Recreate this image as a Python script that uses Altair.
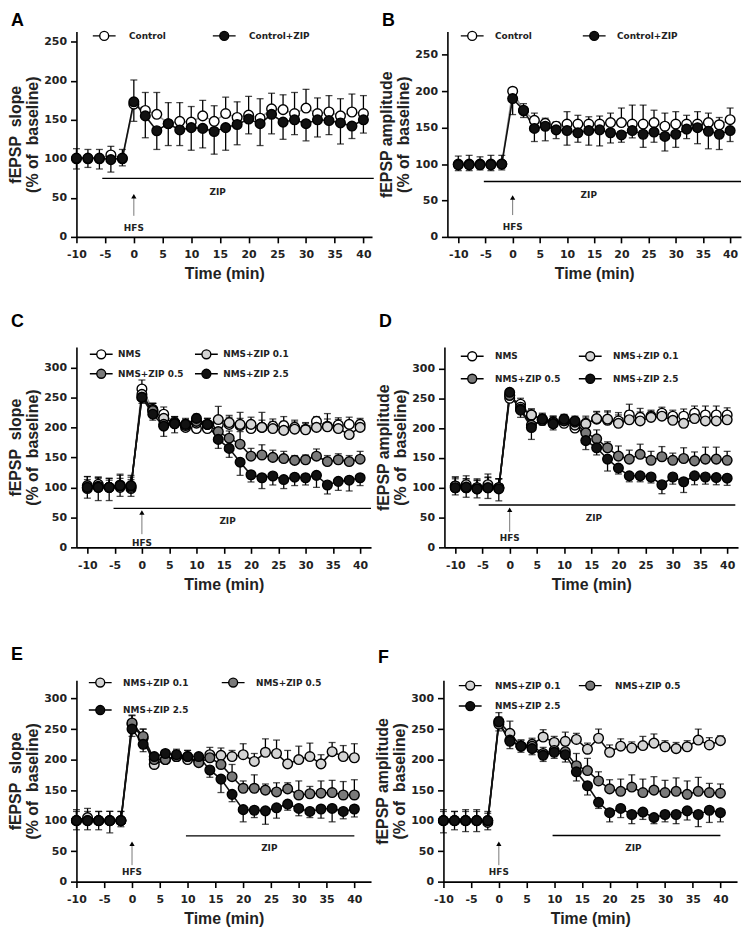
import altair as alt
import pandas as pd

TICKF = "DejaVu Sans"
TITLEF = "Liberation Sans"

time = [-10, -8, -6, -4, -2, 0, 2, 4, 6, 8, 10, 12, 14, 16, 18, 20, 22, 24, 26, 28, 30, 32, 34, 36, 38, 40]
x_ticks = [-10, -5, 0, 5, 10, 15, 20, 25, 30, 35, 40]
y_ticks_ab = [0, 50, 100, 150, 200, 250]
y_ticks_cf = [0, 50, 100, 150, 200, 250, 300]

# Panel A - fEPSP slope
a_ctrl = [100, 100, 100, 105, 100, 170, 162, 157, 145, 148, 147, 155, 148, 158, 153, 156, 152, 164, 163, 158, 165, 158, 160, 155, 160, 158]
a_ctrl_err = [13, 12, 12, 11, 12, 31, 23, 28, 27, 24, 20, 20, 20, 21, 20, 24, 25, 20, 19, 27, 24, 20, 21, 22, 23, 23]
a_zip = [101, 101, 101, 99, 101, 173, 155, 136, 145, 137, 140, 139, 135, 140, 144, 151, 145, 157, 147, 150, 145, 150, 149, 146, 142, 150]
a_zip_err = [14, 12, 14, 16, 10, 25, 28, 24, 28, 20, 29, 25, 29, 29, 26, 19, 28, 25, 22, 19, 22, 22, 18, 27, 16, 17]

# Panel B - fEPSP amplitude
b_ctrl = [100, 100, 100, 100, 100, 200, 173, 160, 156, 152, 155, 155, 155, 155, 157, 157, 155, 155, 157, 152, 155, 155, 155, 157, 154, 161]
b_ctrl_err = [11, 12, 10, 12, 12, 5, 10, 10, 7, 6, 17, 12, 10, 11, 13, 20, 26, 26, 17, 18, 17, 12, 17, 13, 10, 16]
b_zip = [99, 99, 99, 99, 100, 190, 174, 149, 152, 147, 146, 143, 146, 147, 143, 140, 146, 141, 144, 138, 141, 148, 150, 145, 141, 146]
b_zip_err = [8, 8, 7, 8, 8, 22, 10, 18, 20, 12, 20, 13, 20, 22, 14, 10, 10, 18, 14, 20, 18, 13, 22, 24, 21, 15]

# Panel C - fEPSP slope
c_nms = [98, 105, 100, 100, 98, 264, 230, 222, 208, 200, 198, 198, 205, 205, 203, 198, 200, 202, 203, 200, 197, 210, 202, 204, 205, 205]
c_nms_err = [15, 12, 12, 15, 15, 15, 10, 12, 10, 8, 10, 10, 12, 12, 12, 10, 12, 12, 15, 12, 10, 8, 12, 12, 12, 10]
c_z01 = [100, 102, 100, 102, 100, 255, 228, 215, 208, 205, 207, 205, 213, 208, 205, 205, 200, 198, 195, 197, 196, 200, 201, 198, 188, 200]
c_z01_err = [18, 15, 15, 18, 20, 12, 12, 10, 10, 10, 12, 10, 22, 12, 20, 12, 25, 12, 15, 12, 12, 10, 22, 15, 17, 12]
c_z05 = [103, 100, 100, 104, 102, 250, 228, 205, 207, 203, 210, 205, 193, 182, 172, 152, 154, 150, 148, 145, 146, 152, 143, 146, 143, 147]
c_z05_err = [15, 15, 15, 18, 15, 12, 12, 10, 10, 10, 12, 10, 10, 12, 21, 13, 17, 12, 12, 8, 8, 12, 10, 10, 10, 13]
c_z25 = [100, 100, 100, 103, 103, 250, 222, 202, 206, 205, 215, 205, 180, 165, 142, 121, 116, 119, 113, 117, 116, 120, 104, 110, 112, 116]
c_z25_err = [18, 22, 22, 18, 18, 10, 10, 17, 15, 10, 12, 10, 15, 15, 22, 12, 18, 15, 15, 14, 12, 20, 15, 15, 18, 13]

# Panel D - fEPSP amplitude
d_nms = [100, 100, 100, 102, 100, 250, 240, 222, 213, 210, 208, 200, 208, 215, 213, 212, 222, 218, 220, 225, 220, 220, 225, 222, 222, 222]
d_nms_err = [15, 15, 12, 15, 15, 10, 10, 10, 10, 10, 10, 10, 12, 12, 14, 14, 18, 15, 10, 10, 10, 12, 12, 15, 15, 12]
d_z01 = [103, 105, 100, 105, 100, 255, 235, 222, 215, 210, 212, 205, 207, 216, 215, 208, 214, 212, 218, 220, 213, 208, 216, 212, 212, 214]
d_z01_err = [15, 15, 15, 18, 15, 10, 10, 10, 10, 10, 10, 10, 10, 12, 14, 14, 15, 15, 10, 10, 10, 12, 12, 15, 15, 12]
d_z05 = [103, 100, 98, 100, 100, 255, 232, 205, 213, 208, 213, 210, 192, 182, 167, 153, 148, 156, 146, 152, 146, 149, 145, 148, 148, 146]
d_z05_err = [15, 15, 15, 18, 15, 10, 12, 10, 10, 10, 10, 10, 10, 15, 10, 17, 15, 17, 15, 17, 12, 18, 15, 20, 20, 15]
d_z25 = [100, 101, 98, 100, 98, 260, 230, 201, 215, 207, 215, 212, 179, 167, 148, 133, 120, 120, 118, 105, 118, 110, 120, 118, 117, 116]
d_z25_err = [12, 17, 15, 18, 20, 10, 12, 20, 10, 10, 10, 12, 15, 12, 20, 10, 10, 10, 10, 15, 12, 18, 15, 12, 12, 12]

# Panel E - fEPSP slope
e_z01 = [100, 105, 100, 100, 100, 258, 235, 192, 200, 205, 200, 198, 208, 207, 205, 208, 197, 212, 210, 193, 200, 205, 193, 213, 205, 203]
e_z01_err = [18, 15, 15, 15, 15, 15, 15, 10, 10, 12, 15, 12, 12, 12, 10, 18, 13, 22, 22, 22, 22, 22, 15, 15, 18, 23]
e_z05 = [100, 100, 100, 100, 100, 260, 238, 200, 200, 205, 205, 195, 203, 192, 172, 153, 153, 150, 147, 152, 142, 144, 145, 146, 142, 142]
e_z05_err = [15, 15, 15, 15, 15, 12, 12, 10, 10, 10, 10, 10, 10, 10, 20, 12, 22, 10, 15, 10, 23, 12, 20, 20, 22, 25]
e_z25 = [100, 100, 100, 100, 100, 250, 225, 205, 210, 208, 205, 205, 183, 168, 143, 118, 117, 116, 121, 127, 120, 115, 119, 120, 115, 119]
e_z25_err = [15, 15, 15, 20, 10, 12, 12, 10, 12, 10, 10, 10, 12, 22, 12, 20, 12, 22, 17, 10, 12, 10, 15, 22, 12, 13]

# Panel F - fEPSP amplitude
f_z01 = [100, 100, 100, 100, 97, 262, 243, 222, 225, 237, 228, 230, 233, 217, 235, 212, 222, 219, 223, 227, 221, 218, 221, 232, 224, 231]
f_z01_err = [18, 15, 18, 18, 15, 15, 20, 10, 10, 12, 10, 15, 10, 10, 15, 12, 12, 10, 15, 15, 10, 10, 10, 18, 12, 8]
f_z05 = [100, 100, 100, 100, 100, 258, 232, 222, 222, 210, 215, 213, 190, 182, 165, 152, 148, 155, 146, 150, 146, 148, 143, 148, 146, 145]
f_z05_err = [15, 15, 15, 15, 15, 12, 12, 10, 10, 10, 10, 10, 20, 20, 15, 15, 20, 20, 22, 22, 20, 22, 22, 23, 15, 15]
f_z25 = [100, 100, 100, 100, 100, 262, 230, 222, 218, 207, 212, 208, 180, 157, 130, 113, 120, 110, 114, 105, 110, 110, 116, 110, 117, 113]
f_z25_err = [20, 15, 18, 18, 15, 15, 12, 10, 10, 10, 10, 12, 15, 15, 10, 15, 15, 15, 12, 10, 12, 15, 15, 20, 20, 15]

WHITE, LIGHT, DARK, BLACK = "#ffffff", "#d4d4d4", "#7a7a7a", "#111111"
SYMBOL_PATH = "M-2.3,0H-0.9M0.9,0H2.3M-0.9,0A0.9,0.9,0,1,0,0.9,0A0.9,0.9,0,1,0,-0.9,0Z"

slope_title = ["fEPSP\u00a0 slope", "(% of\u00a0 baseline)"]
amp_title = ["fEPSP amplitude", "(% of\u00a0 baseline)"]


def panel(letter, ytitle, series, ydom, yticks, xdom, zipd, hfsd, leg, w, h, toff):
    rows = []
    for k, (name, vals, errs, fill, d, lc) in enumerate(series):
        for t, v, e in zip(time, vals, errs):
            rows.append(dict(t=t, v=v, yend=v + d * e, series=name, k=k, lc=lc))
    df = pd.DataFrame(rows)
    names = [s[0] for s in series]
    fills = [s[3] for s in series]

    xs = alt.Scale(domain=xdom, nice=False, zero=False)
    ys = alt.Scale(domain=ydom, nice=False, zero=False)
    xax = alt.Axis(values=x_ticks, title="Time (min)", labelExpr="'' + datum.value")
    yax = alt.Axis(values=yticks, title=ytitle)

    def X(f):
        return alt.X(f, type="quantitative", scale=xs, axis=xax)

    def Y(f):
        return alt.Y(f, type="quantitative", scale=ys, axis=yax)

    base = alt.Chart(df)
    lines = base.mark_line(strokeWidth=1.6).encode(
        x=X("t"), y=Y("v"), detail="series:N",
        stroke=alt.Stroke("lc:N", scale=None))
    bars = base.mark_rule(strokeWidth=1.3, color="black").encode(
        x=X("t"), y=Y("v"), y2=alt.Y2("yend"))
    caps = base.mark_tick(orient="horizontal", size=7, thickness=1.3, color="black").encode(
        x=X("t"), y=Y("yend"))
    pts = base.mark_point(shape="circle", filled=True, size=95, stroke="black",
                          strokeWidth=1.4, opacity=1).encode(
        x=X("t"), y=Y("v"),
        fill=alt.Fill("series:N", scale=alt.Scale(domain=names, range=fills),
                      legend=alt.Legend(
                          orient="none", legendX=leg["x"], legendY=leg["y"],
                          columns=2, title=None, direction="horizontal",
                          symbolType=SYMBOL_PATH, symbolSize=100,
                          symbolStrokeColor="black", symbolStrokeWidth=1.4,
                          labelFont=TICKF, labelFontSize=9, labelFontWeight="bold",
                          labelColor="#222", labelOffset=leg["lo"],
                          columnPadding=leg["cp"], rowPadding=leg["rp"])),
        order=alt.Order("k:Q"))

    zdf = pd.DataFrame([zipd])
    zline = alt.Chart(zdf).mark_rule(color="black", strokeWidth=1.4).encode(
        x=X("x1"), x2=alt.X2("x2"), y=Y("y"))
    ztext = alt.Chart(zdf).mark_text(font=TICKF, fontSize=9, fontWeight="bold",
                                     color="#222").encode(
        x=X("tx"), y=Y("ty"), text="label:N")
    hdf = pd.DataFrame([hfsd])
    harrow = alt.Chart(hdf).mark_rule(color="#777", strokeWidth=1).encode(
        x=X("x"), y=Y("y1"), y2=alt.Y2("y2"))
    hhead = alt.Chart(hdf).mark_point(shape="triangle-up", filled=True, size=28,
                                      color="black", opacity=1).encode(
        x=X("x"), y=Y("y2"))
    htext = alt.Chart(hdf).mark_text(font=TICKF, fontSize=9, fontWeight="bold",
                                     color="#222").encode(
        x=X("x"), y=Y("ty"), text="label:N")

    return alt.layer(zline, ztext, harrow, hhead, htext, lines, bars, caps, pts).properties(
        width=w, height=h,
        title=alt.TitleParams(letter, anchor="start", frame="group", dx=-66,
                              fontSize=18, fontWeight="bold", font=TITLEF,
                              color="black", offset=toff))


pA = panel("A", slope_title,
           [("Control", a_ctrl, a_ctrl_err, WHITE, 1, "#999999"),
            ("Control+ZIP", a_zip, a_zip_err, BLACK, -1, "#111111")],
           [0, 263], y_ticks_ab, [-10, 41.5],
           dict(x1=-5.5, x2=41.8, y=75, tx=14.6, ty=58, label="ZIP"),
           dict(x=0, y1=27, y2=52, ty=12, label="HFS"),
           dict(x=22, y=-2, lo=19, cp=43, rp=4), 298, 207, 0)
pB = panel("B", amp_title,
           [("Control", b_ctrl, b_ctrl_err, WHITE, 1, "#999999"),
            ("Control+ZIP", b_zip, b_zip_err, BLACK, -1, "#111111")],
           [0, 282], y_ticks_ab, [-12, 42],
           dict(x1=-5.3, x2=42, y=76, tx=14, ty=57, label="ZIP"),
           dict(x=0, y1=30, y2=54, ty=13, label="HFS"),
           dict(x=19, y=-2, lo=17, cp=47, rp=4), 296, 207, 0)
pC = panel("C", slope_title,
           [("NMS", c_nms, c_nms_err, WHITE, 1, "#999999"),
            ("NMS+ZIP 0.1", c_z01, c_z01_err, LIGHT, 1, "#111111"),
            ("NMS+ZIP 0.5", c_z05, c_z05_err, DARK, 1, "#111111"),
            ("NMS+ZIP 2.5", c_z25, c_z25_err, BLACK, -1, "#111111")],
           [0, 334], y_ticks_cf, [-12, 42],
           dict(x1=-5.2, x2=42, y=65, tx=15.7, ty=44, label="ZIP"),
           dict(x=0, y1=22, y2=58, ty=7, label="HFS"),
           dict(x=19, y=1, lo=11, cp=7, rp=4), 297, 202, 16)
pD = panel("D", amp_title,
           [("NMS", d_nms, d_nms_err, WHITE, 1, "#999999"),
            ("NMS+ZIP 0.1", d_z01, d_z01_err, LIGHT, 1, "#111111"),
            ("NMS+ZIP 0.5", d_z05, d_z05_err, DARK, 1, "#111111"),
            ("NMS+ZIP 2.5", d_z25, d_z25_err, BLACK, -1, "#111111")],
           [0, 336], y_ticks_cf, [-12, 42],
           dict(x1=-5.7, x2=41.5, y=71, tx=15.5, ty=50, label="ZIP"),
           dict(x=0, y1=26, y2=63, ty=16, label="HFS"),
           dict(x=22, y=3, lo=17, cp=14, rp=7), 296, 202, 16)
pE = panel("E", slope_title,
           [("NMS+ZIP 0.1", e_z01, e_z01_err, LIGHT, 1, "#111111"),
            ("NMS+ZIP 0.5", e_z05, e_z05_err, DARK, 1, "#111111"),
            ("NMS+ZIP 2.5", e_z25, e_z25_err, BLACK, -1, "#111111")],
           [0, 330], y_ticks_cf, [-10, 43],
           dict(x1=9.7, x2=40, y=75, tx=24.7, ty=55, label="ZIP"),
           dict(x=0, y1=27, y2=62, ty=16, label="HFS"),
           dict(x=18, y=-4, lo=17, cp=29, rp=12), 297, 203, 12)
pF = panel("F", amp_title,
           [("NMS+ZIP 0.1", f_z01, f_z01_err, LIGHT, 1, "#111111"),
            ("NMS+ZIP 0.5", f_z05, f_z05_err, DARK, 1, "#111111"),
            ("NMS+ZIP 2.5", f_z25, f_z25_err, BLACK, -1, "#111111")],
           [0, 330], y_ticks_cf, [-10, 43],
           dict(x1=9.7, x2=40, y=75.5, tx=24.3, ty=55, label="ZIP"),
           dict(x=0, y1=27, y2=62, ty=16, label="HFS"),
           dict(x=21, y=-1, lo=19, cp=14, rp=5), 296, 203, 12)


def row(l, r):
    return alt.hconcat(l, r, spacing=4).resolve_scale(fill="independent").resolve_legend(fill="independent")


top = alt.vconcat(row(pA, pB), row(pC, pD), spacing=32)
chart = alt.vconcat(top, row(pE, pF), spacing=55).properties(
    background="white", padding=0).configure_view(stroke=None).configure_axis(
    grid=False, domainColor="black", domainWidth=1.6, tickColor="black", tickWidth=1.6,
    tickSize=6, labelFont=TICKF, labelFontSize=11, labelFontWeight="bold", labelColor="#222",
    labelOverlap=False, labelFlush=False,
    titleFont=TITLEF, titleFontSize=16, titleFontWeight="bold",
    titleColor="#222", titleLineHeight=17).configure_axisX(
    titlePadding=6, labelPadding=6).configure_axisY(titlePadding=3, labelPadding=4)

chart.save("out.html", embed_options={"renderer": "svg", "actions": False})
